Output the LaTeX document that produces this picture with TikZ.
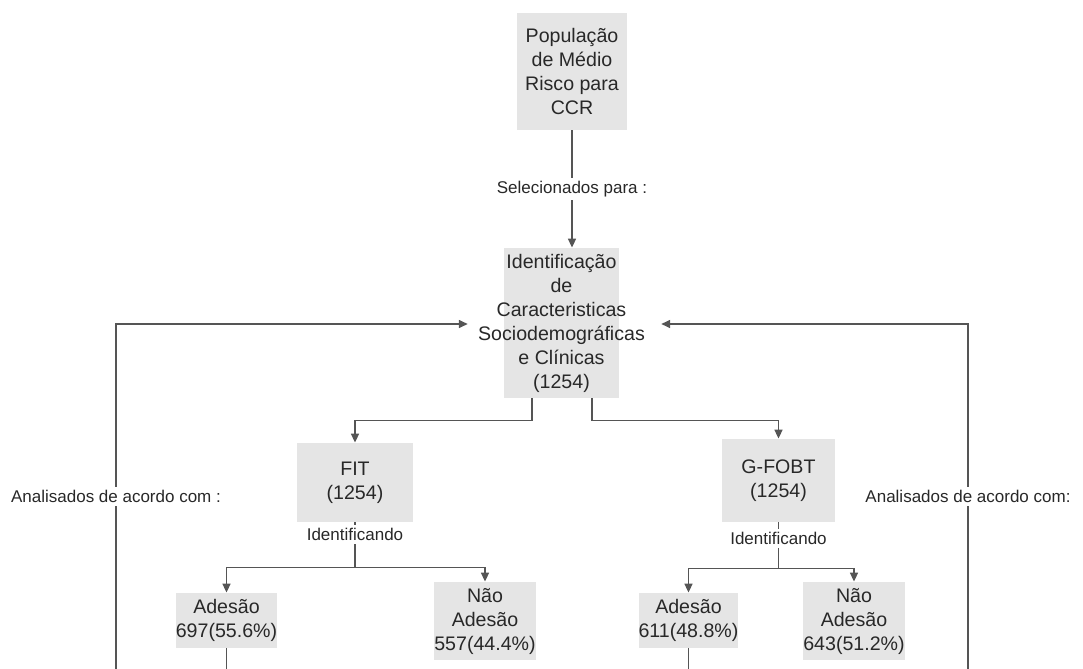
\documentclass[tikz,border=0pt]{standalone}
\usepackage{fontspec}
\setmainfont{Liberation Sans}
\usetikzlibrary{arrows.meta, calc}
\definecolor{boxgray}{RGB}{229,229,229}
\definecolor{linegray}{RGB}{85,85,85}
\definecolor{txtgray}{RGB}{40,40,40}

\begin{document}
\begin{tikzpicture}[x=0.5pt, y=-0.5pt]
	\tikzstyle{Box} = [rectangle, fill=boxgray, inner sep=0pt, align=center, text=txtgray, font=\fontsize{9.8}{12}\selectfont]
	\tikzstyle{Lbl} = [fill=white, inner sep=1.5pt, text=txtgray, font=\fontsize{8.5}{10}\selectfont]
	\tikzstyle{line} = [line width=0.8pt, draw=linegray]
	\tikzstyle{arrow} = [line, -{Triangle[length=4.5pt, width=4pt]}]

	\useasboundingbox (0,0) rectangle (1083,669);

	\node (pop) [Box, minimum width=55pt, minimum height=58.5pt] at (572,71.5) {População\\de Médio\\Risco para\\CCR};
	\node (ident) [Box, minimum width=57.5pt, minimum height=75pt] at (561.5,323) {};
	\node (identtxt) [Box, fill=none] at (ident) {Identificação\\de\\Caracteristicas\\Sociodemográficas\\e Clínicas\\(1254)};
	\node (fit) [Box, minimum width=58pt, minimum height=39.5pt] at (355,482.5) {FIT\\(1254)};
	\node (gfobt) [Box, minimum width=56.5pt, minimum height=41.5pt] at (778.5,480.5) {G-FOBT\\(1254)};
	\node (fitad) [Box, minimum width=45.5pt, minimum height=27.5pt] at (226.5,620.5) {Adesão\\697(55.6\%)};
	\node (fitnao) [Box, minimum width=45pt, minimum height=39pt] at (485,621) {Não\\Adesão\\557(44.4\%)};
	\node (gad) [Box, minimum width=44.5pt, minimum height=27.5pt] at (688.5,620.5) {Adesão\\611(48.8\%)};
	\node (gnao) [Box, minimum width=44pt, minimum height=39pt] at (854,621) {Não\\Adesão\\643(51.2\%)};

	\coordinate (lbot) at (116,669);
	\coordinate (ltop) at (116,324);
	\coordinate (rbot) at (968,669);
	\coordinate (rtop) at (968,324);

	\draw [arrow] (pop) -- node (sel) [Lbl] {Selecionados para :} (pop |- ident.north);
	\draw [arrow] ($(ident.south)+(-29.5,0)$) -- ++(0,22) -| (fit.north);
	\draw [arrow] ($(ident.south)+(30.5,0)$) -- ++(0,22) -| (gfobt.north);

	\draw [line] (fit.south) -- node (fitid) [Lbl, pos=0.27] {Identificando} ++(0,45) coordinate (fitjoin);
	\draw [arrow] (fitjoin) -| (fitad.north);
	\draw [arrow] (fitjoin) -| (fitnao.north);
	\draw [line] (gfobt.south) -- node (gid) [Lbl, pos=0.35] {Identificando} ++(0,46) coordinate (gjoin);
	\draw [arrow] (gjoin) -| (gad.north);
	\draw [arrow] (gjoin) -| (gnao.north);

	\draw [line] (fitad) -- (fitad |- lbot);
	\draw [line] (gad) -- (gad |- rbot);
	\draw [arrow, shorten >=5pt] (lbot) -- node (lana) [Lbl] {Analisados de acordo com :} (ltop) -- (ltop -| identtxt.west);
	\draw [arrow, shorten >=8pt] (rbot) -- node (rana) [Lbl] {Analisados de acordo com:} (rtop) -- (rtop -| identtxt.east);
\end{tikzpicture}
\end{document}
